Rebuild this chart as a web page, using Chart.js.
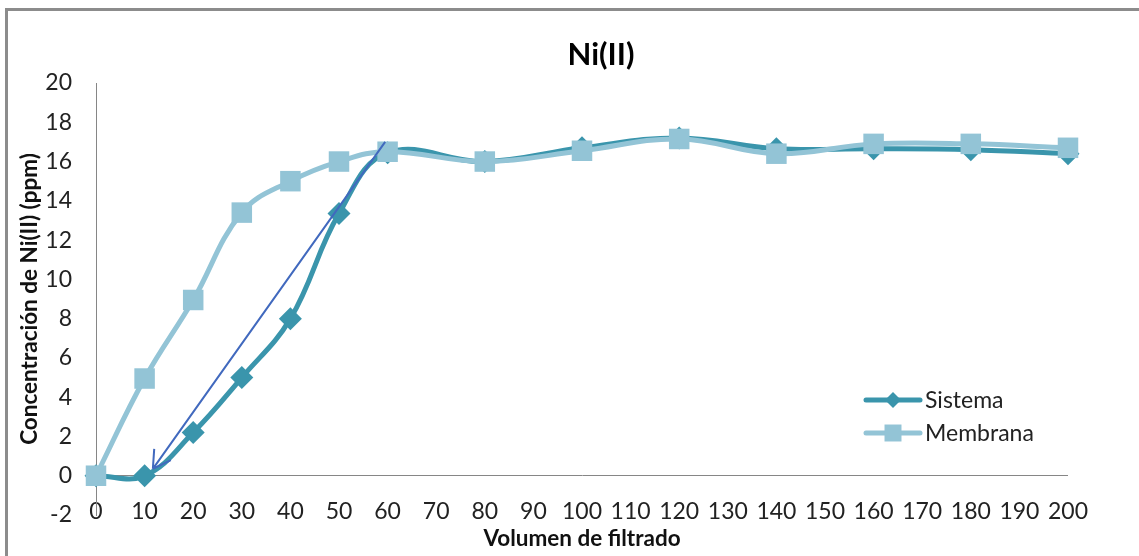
<!DOCTYPE html>
<html>
<head>
<meta charset="utf-8">
<script src="https://cdn.jsdelivr.net/npm/chart.js@4"></script>
<style>
  html, body { margin: 0; padding: 0; background: #fff; }
  #wrap { position: relative; width: 1139px; height: 556px; overflow: hidden; }
  #frame { position: absolute; left: 5px; top: 8px; right: -10px; bottom: -10px;
           border-left: 3px solid #8c8c8c; border-top: 3px solid #8c8c8c; pointer-events: none; }
</style>
</head>
<body>
<div id="wrap">
  <canvas id="niChart" width="1139" height="556"></canvas>
  <div id="frame"></div>
</div>
<script>
// data
const volumes  = [0, 10, 20, 30, 40, 50, 60, 80, 100, 120, 140, 160, 180, 200];
const sistema  = [0, 0, 2.2, 5, 8, 13.35, 16.45, 16, 16.7, 17.2, 16.65, 16.65, 16.6, 16.4];
const membrana = [0, 4.95, 8.95, 13.4, 15, 16, 16.5, 16, 16.55, 17.15, 16.4, 16.9, 16.9, 16.7];
const xRange = [0, 200, 10];   // min, max, step
const yRange = [-2, 20, 2];
// hand drawn arrow in the original, in data units (start, tip)
const arrowX = [59.5, 11.7];
const arrowY = [17.0, 0.35];

const FONT = "Lato, 'Open Sans', sans-serif";
const SISTEMA_COLOR = "#3a95ac";
const MEMBRANA_COLOR = "#93c4d6";

const toPoints = vals => vals.map((v, i) => ({ x: volumes[i], y: v }));

const extras = {
  id: "extras",
  afterDatasetsDraw(chart) {
    const ctx = chart.ctx;
    const xs = chart.scales.x, ys = chart.scales.y;
    const x0 = xs.getPixelForValue(arrowX[0]), y0 = ys.getPixelForValue(arrowY[0]);
    const x1 = xs.getPixelForValue(arrowX[1]), y1 = ys.getPixelForValue(arrowY[1]);
    const ang = Math.atan2(y0 - y1, x0 - x1);
    ctx.save();
    ctx.strokeStyle = "#4169be";
    ctx.lineWidth = 2;
    ctx.beginPath();
    ctx.moveTo(x0, y0);
    ctx.lineTo(x1, y1);
    [-0.55, 0.5].forEach(d => {
      ctx.moveTo(x1, y1);
      ctx.lineTo(x1 + 20 * Math.cos(ang + d), y1 + 20 * Math.sin(ang + d));
    });
    ctx.stroke();
    ctx.restore();
  },
  afterDraw(chart) {
    const ctx = chart.ctx;
    const area = chart.chartArea;
    ctx.save();
    // title
    ctx.fillStyle = "#000";
    ctx.font = "bold 31px " + FONT;
    ctx.textAlign = "center";
    ctx.textBaseline = "alphabetic";
    ctx.fillText("Ni(II)", 601, 65);

    // legend
    ctx.font = "23px " + FONT;
    ctx.textAlign = "left";
    ctx.textBaseline = "middle";
    const lx = area.right - 202;
    chart.data.datasets.forEach((ds, i) => {
      const ly = area.top + 317 + i * 33;
      ctx.strokeStyle = ds.borderColor;
      ctx.lineWidth = 5;
      ctx.lineCap = "round";
      ctx.beginPath();
      ctx.moveTo(lx, ly);
      ctx.lineTo(lx + 54, ly);
      ctx.stroke();
      ctx.fillStyle = ds.backgroundColor;
      Chart.helpers.drawPoint(ctx, {
        pointStyle: ds.pointStyle,
        radius: ds.pointStyle === "rect" ? 12 : 8,
        borderWidth: 0
      }, lx + 27, ly);
      ctx.fillStyle = "#222";
      ctx.fillText(ds.label, lx + 59, ly + 1);
    });
    ctx.restore();
  }
};

new Chart(document.getElementById("niChart"), {
  type: "line",
  data: {
    datasets: [
      {
        label: "Sistema",
        data: toPoints(sistema),
        borderColor: SISTEMA_COLOR,
        backgroundColor: SISTEMA_COLOR,
        borderWidth: 5,
        pointStyle: "rectRot",
        pointRadius: 11.5,
        pointBorderWidth: 0,
        tension: 0.4,
        clip: false,
        order: 1
      },
      {
        label: "Membrana",
        data: toPoints(membrana),
        borderColor: MEMBRANA_COLOR,
        backgroundColor: MEMBRANA_COLOR,
        borderWidth: 5,
        pointStyle: "rect",
        pointRadius: 14.5,
        pointBorderWidth: 0,
        tension: 0.4,
        clip: false,
        order: 0
      }
    ]
  },
  options: {
    responsive: false,
    devicePixelRatio: 1,
    animation: false,
    events: [],
    layout: { padding: { top: 83, right: 71, bottom: 0, left: 0 } },
    plugins: {
      legend: { display: false },
      title: { display: false },
      tooltip: { enabled: false }
    },
    scales: {
      x: {
        type: "linear",
        min: xRange[0],
        max: xRange[1],
        // mirrored so the labels can sit across the bottom edge of the plot without being clipped
        ticks: {
          stepSize: xRange[2], mirror: true, padding: -10.3, color: "#222",
          font: { family: FONT, size: 23 },
          showLabelBackdrop: true, backdropColor: "#fff", backdropPadding: 0
        },
        grid: { display: false, drawTicks: false },
        border: { display: false },
        title: {
          display: true,
          text: "Volumen de filtrado",
          color: "#111",
          font: { family: FONT, size: 22.5, weight: "bold" },
          padding: { top: 3.5, bottom: 3.5 }
        },
        afterFit(scale) { scale.height = 41; }
      },
      y: {
        min: yRange[0],
        max: yRange[1],
        ticks: { stepSize: yRange[2], padding: 24, color: "#222", font: { family: FONT, size: 23 } },
        grid: {
          drawTicks: false,
          color: c => (c.tick && c.tick.value === 0 ? "#868686" : "rgba(0,0,0,0)")
        },
        border: { display: true, color: "#868686", width: 1 },
        title: {
          display: true,
          text: "Concentración de Ni(II) (ppm)",
          color: "#111",
          font: { family: FONT, size: 22.5, weight: "bold" },
          padding: { top: 16.5, bottom: 0 }
        },
        afterFit(scale) { scale.width = 96; }
      }
    }
  },
  plugins: [extras]
});
</script>
</body>
</html>
